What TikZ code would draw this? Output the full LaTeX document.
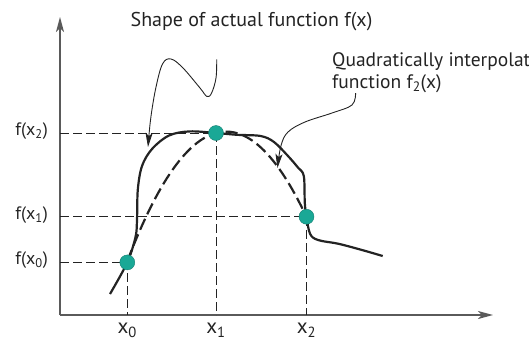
\documentclass[tikz,border=0pt]{standalone}
\usepackage{fontspec}
\setmainfont{PT Sans}
\usetikzlibrary{arrows.meta}
\definecolor{ptteal}{RGB}{26,168,150}
\definecolor{axisgray}{RGB}{90,90,90}
\definecolor{inkgray}{RGB}{35,35,35}

\begin{document}
\begin{tikzpicture}[x=1pt,y=-1pt,
  axis/.style={line width=1.3pt,color=axisgray,-{Stealth[length=15pt,width=8pt,inset=4pt]}},
  guide/.style={line width=0.9pt,color=inkgray,dash pattern=on 9pt off 4pt},
  actual/.style={line width=2.2pt,color=inkgray,line join=round},
  quad/.style={line width=2.2pt,color=inkgray,dash pattern=on 12pt off 5pt},
  callout/.style={line width=0.9pt,color=inkgray,-{Stealth[length=14pt,width=7pt,inset=3pt]}},
  pt/.style={circle,draw=ptteal!75!black,line width=0.4pt,fill=ptteal,minimum size=15pt,inner sep=0pt},
  lbl/.style={font=\fontsize{18}{21}\selectfont,text=inkgray,inner sep=0pt},
  xlbl/.style={font=\fontsize{21}{24}\selectfont,text=inkgray,inner sep=0pt},
  note/.style={font=\fontsize{19.5}{22}\selectfont,text=inkgray,inner sep=0pt,align=left}]
  \useasboundingbox (0,0) rectangle (529,341);
  \coordinate (O) at (60,315);
  \coordinate (ytip) at (60,17);
  \coordinate (xtip) at (493,315);
  \draw[axis] (O) -- (ytip);
  \draw[axis] (O) -- (xtip);

  \coordinate (p0) at (127.3,262.4);
  \coordinate (p1) at (216,133);
  \coordinate (p2) at (306.5,216.7);

  \draw[guide] (O |- p0) -- (p0) -- (p0 |- O);
  \draw[guide] (O |- p1) -- (p1) -- (p1 |- O);
  \draw[guide] (O |- p2) -- (p2) -- (p2 |- O);

  \draw[actual] plot[smooth,tension=0.55] coordinates {(110,294) (127.3,262.4) (135.5,237) (137,220)
    (137.8,189.6) (142,166) (152,149) (169,135.5) (189.6,131.4) (216,133) (237,134.8) (260.7,136)
    (274,142) (288,156) (298,167.6) (303.8,176) (304.8,203) (306.5,216.7) (310,233.7) (318,240)
    (338.6,243.8) (362,250) (382.7,256)};
  \draw[quad] plot[domain=127.3:306.5,samples=60] (\x,{133+0.013246*(\x-216)^2-0.2706*(\x-216)});

  \node[note,anchor=center,font=\fontsize{20}{22}\selectfont] (title) at (251.5,22) {Shape of actual function f(x)};
  \node[note,anchor=north west] (qlabel) at (332,52) {Quadratically interpolated\\function f\textsubscript{2}(x)};

  \coordinate (c1s) at (216.7,59.3);
  \coordinate (c1e) at (148,147);
  \draw[callout] plot[smooth,tension=0.6] coordinates {(c1s) (216,78) (211.6,93) (207,96.5) (200,88)
    (183,68) (171,59) (162.5,64) (155.8,88) (150.7,118.5) (c1e)};
  \coordinate (c2s) at (355.6,93);
  \coordinate (c2e) at (277.5,168);
  \draw[callout] plot[smooth,tension=0.6] coordinates {(c2s) (352,105) (332,113) (305,122) (288,132)
    (281,145.6) (c2e)};

  \node[pt] (d0) at (p0) {};
  \node[pt] (d1) at (p1) {};
  \node[pt] (d2) at (p2) {};

  \node[lbl,anchor=east] (fx2) at (48,131) {f(x\textsubscript{2})};
  \node[lbl,anchor=east] (fx1) at (48,215) {f(x\textsubscript{1})};
  \node[lbl,anchor=east] (fx0) at (48,260) {f(x\textsubscript{0})};
  \node[xlbl,anchor=north] (x0) at (127.3,323) {x\textsubscript{0}};
  \node[xlbl,anchor=north] (x1) at (216,323) {x\textsubscript{1}};
  \node[xlbl,anchor=north] (x2) at (306.5,323) {x\textsubscript{2}};
\end{tikzpicture}
\end{document}
